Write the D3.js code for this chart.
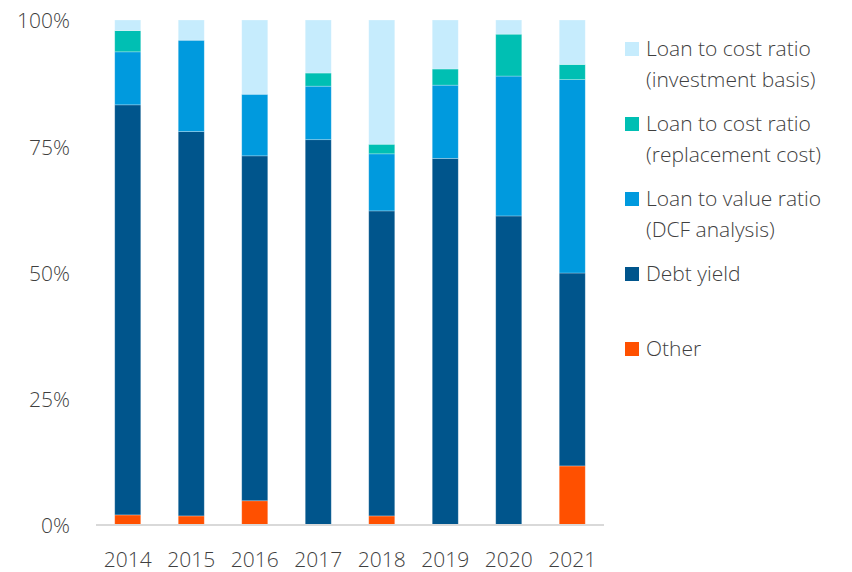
<!DOCTYPE html>
<html>
<head>
<meta charset="utf-8">
<script src="https://cdn.jsdelivr.net/npm/d3@7"></script>
<style>
  html, body { margin: 0; padding: 0; background: #fff; }
  svg { display: block; font-family: "Open Sans", "Noto Sans", sans-serif; font-weight: 300; }
</style>
</head>
<body>
<svg id="chart" width="852" height="572"></svg>
<script>
// Share of underwriting metrics by year (percent of total)
const years = ["2014", "2015", "2016", "2017", "2018", "2019", "2020", "2021"];
const other        = [2.0, 1.8, 4.8, 0.0, 1.8, 0.0, 0.0, 11.7];
const debtYield    = [81.2, 76.1, 68.3, 76.3, 60.4, 72.6, 61.2, 38.2];
const ltvDcf       = [10.5, 18.1, 12.2, 10.6, 11.3, 14.5, 27.7, 38.3];
const ltcReplace   = [4.2, 0.0, 0.0, 2.6, 1.9, 3.2, 8.3, 3.0];
const ltcInvest    = [2.1, 4.0, 14.7, 10.5, 24.6, 9.7, 2.8, 8.8];
const yTicks       = [0, 25, 50, 75, 100];

const series = [
  { key: "other",      values: other,      color: "#FF5000", label: ["Other"] },
  { key: "debtYield",  values: debtYield,  color: "#00558C", label: ["Debt yield"] },
  { key: "ltvDcf",     values: ltvDcf,     color: "#009ADE", label: ["Loan to value ratio", "(DCF analysis)"] },
  { key: "ltcReplace", values: ltcReplace, color: "#00BFB3", label: ["Loan to cost ratio", "(replacement cost)"] },
  { key: "ltcInvest",  values: ltcInvest,  color: "#C6ECFD", label: ["Loan to cost ratio", "(investment basis)"] }
];

const rows = years.map((y, i) => {
  const r = { year: y };
  series.forEach(s => { r[s.key] = s.values[i]; });
  return r;
});

const svg = d3.select("#chart");
const margin = { left: 96, right: 248, top: 20, bottom: 47 };
const W = 852, H = 572;

const x = d3.scaleBand().domain(years).range([margin.left, W - margin.right]).paddingInner(0.59).paddingOuter(0.295);
const y = d3.scaleLinear().domain([0, 100]).range([H - margin.bottom, margin.top]);

const stack = d3.stack().keys(series.map(s => s.key));
const stacked = stack(rows);

const textColor = "#3f3f3f";
const fontSize = 21;

// Bars
svg.append("g").selectAll("g")
  .data(stacked)
  .join("g")
  .attr("fill", (d, i) => series[i].color)
  .selectAll("rect")
  .data(d => d.filter(p => p[1] - p[0] > 0))
  .join("rect")
  .attr("x", d => x(d.data.year))
  .attr("width", x.bandwidth())
  .attr("y", d => y(d[1]))
  .attr("height", d => y(d[0]) - y(d[1]))
  .attr("stroke", "#ffffff")
  .attr("stroke-opacity", 0.35)
  .attr("stroke-width", 0.75);

// Baseline
svg.append("line")
  .attr("x1", margin.left).attr("x2", W - margin.right)
  .attr("y1", y(0)).attr("y2", y(0))
  .attr("stroke", "#D9D9D9").attr("stroke-width", 2);

// Y axis labels
const yAxis = d3.axisLeft(y).tickValues(yTicks).tickFormat(d => d + "%").tickSize(0).tickPadding(0);
const gy = svg.append("g").attr("transform", `translate(70,0)`).call(yAxis);
gy.select(".domain").remove();
gy.selectAll("text")
  .attr("font-size", fontSize).attr("fill", textColor)
  .attr("font-family", "'Open Sans', sans-serif")
  .attr("font-weight", 300)
  .attr("dy", "0.38em");

// X axis labels
const xAxis = d3.axisBottom(x).tickSize(0).tickPadding(0);
const gx = svg.append("g").attr("transform", `translate(0,${y(0) + 27})`).call(xAxis);
gx.select(".domain").remove();
gx.selectAll("text")
  .attr("font-size", fontSize).attr("fill", textColor)
  .attr("font-family", "'Open Sans', sans-serif")
  .attr("font-weight", 300);

// Legend (top to bottom: investment basis ... other)
const legendOrder = series.slice().reverse();
const legend = svg.append("g").attr("transform", "translate(625,0)");
const lg = legend.selectAll("g")
  .data(legendOrder)
  .join("g")
  .attr("transform", (d, i) => `translate(0,${56 + i * 75})`);

lg.append("rect")
  .attr("x", 0).attr("y", -14)
  .attr("width", 14).attr("height", 14)
  .attr("fill", d => d.color);

lg.each(function(d) {
  const t = d3.select(this).append("text")
    .attr("x", 21).attr("y", 0)
    .attr("font-size", fontSize).attr("font-weight", 300).attr("fill", textColor);
  d.label.forEach((line, j) => {
    t.append("tspan").attr("x", 21).attr("y", j * 31).text(line);
  });
});
</script>
</body>
</html>
